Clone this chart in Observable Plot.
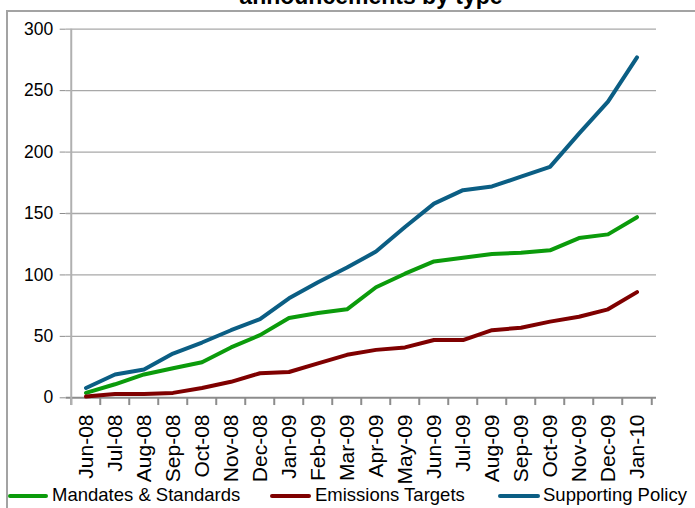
<!DOCTYPE html>
<html><head><meta charset="utf-8">
<script src="https://cdn.jsdelivr.net/npm/d3@7"></script>
<script src="https://cdn.jsdelivr.net/npm/@observablehq/plot@0.6"></script>
<style>
body{margin:0;position:relative;width:695px;height:508px;overflow:hidden;background:#fff;font-family:"Liberation Sans",Arial,sans-serif;}
#frame{position:absolute;left:6px;top:10px;width:800px;height:600px;border:2px solid #a3a3a3;box-sizing:border-box;}
#title{position:absolute;left:0;width:742px;text-align:center;top:-15.5px;font-size:23px;font-weight:bold;line-height:23px;color:#000;}
#chart{position:absolute;left:0;top:0;}
#chart text{fill:#000;}
.lg{position:absolute;font-size:18.5px;line-height:18.5px;top:486.3px;color:#000;white-space:nowrap;}
.sw{position:absolute;height:4px;top:494px;border-radius:2px;}
</style>
</head><body>
<div id="frame"></div>
<div id="title">announcements by type</div>
<div id="chart"></div>
<div id="legend"></div>
<script>
const months = ["Jun-08","Jul-08","Aug-08","Sep-08","Oct-08","Nov-08","Dec-08","Jan-09","Feb-09","Mar-09","Apr-09","May-09","Jun-09","Jul-09","Aug-09","Sep-09","Oct-09","Nov-09","Dec-09","Jan-10"];
const mandates   = [4, 11, 19, 24, 29, 41, 51, 65, 69, 72, 90, 101, 111, 114, 117, 118, 120, 130, 133, 147];
const emissions  = [1, 3, 3, 4, 8, 13, 20, 21, 28, 35, 39, 41, 47, 47, 55, 57, 62, 66, 72, 86];
const supporting = [8, 19, 23, 36, 45, 55, 64, 81, 94, 106, 119, 139, 158, 169, 172, 180, 188, 215, 241, 277];
const seriesNames = ["Mandates & Standards", "Emissions Targets", "Supporting Policy"];
const seriesColors = ["#0b9b0b", "#7f0000", "#0b5e84"];
const yTicks = [0, 50, 100, 150, 200, 250, 300];

const seriesValues = [mandates, emissions, supporting];
const rows = seriesNames.flatMap((s, k) => months.map((m, i) => ({month: m, value: seriesValues[k][i], series: s})));

const W = 695, H = 484, ML = 65.7, MR = 39, MT = 28.7, MB = 86.7;
const bw = (W - ML - MR) / months.length;
const tickLen = -6.3;
const axisGray = "#8c8c8c";

const chart = Plot.plot({
  width: W, height: H,
  marginLeft: ML, marginRight: MR, marginTop: MT, marginBottom: MB,
  style: {fontFamily: '"Liberation Sans", Arial, sans-serif', fontSize: "17.5px", color: axisGray, background: "transparent", overflow: "visible"},
  x: {type: "band", domain: months, padding: 0, axis: null},
  y: {domain: [0, 300], ticks: yTicks, tickSize: 6, tickPadding: 7, label: null},
  color: {domain: seriesNames, range: seriesColors},
  marks: [
    Plot.ruleY(yTicks.slice(1), {stroke: "#a8a8a8", strokeWidth: 1.3}),
    Plot.ruleY([0], {stroke: axisGray, strokeWidth: 2}),
    Plot.ruleX(months, {y1: 0, y2: tickLen, dx: -bw / 2, stroke: axisGray, strokeWidth: 2}),
    Plot.ruleX([months[months.length - 1]], {y1: 0, y2: tickLen, dx: bw / 2, stroke: axisGray, strokeWidth: 2}),
    Plot.ruleX([months[0]], {y1: tickLen, y2: 300, dx: -bw / 2, stroke: "#b0b0b0", strokeWidth: 2}),
    Plot.text(months, {x: d => d, y: 0, text: d => d, dy: 16.7, rotate: -90, textAnchor: "end", fontSize: 21, fill: "#000"}),
    Plot.line(rows, {x: "month", y: "value", z: "series", stroke: "series", strokeWidth: 4, strokeLinecap: "round", strokeLinejoin: "round"})
  ]
});
document.getElementById("chart").appendChild(chart);

const legendPos = [[8, 48, 52], [270, 311, 315], [498, 540, 543]];
const legend = document.getElementById("legend");
seriesNames.forEach((s, k) => {
  const [x0, x1, tx] = legendPos[k];
  const sw = document.createElement("div");
  sw.className = "sw";
  sw.style.left = x0 + "px";
  sw.style.width = (x1 - x0) + "px";
  sw.style.background = seriesColors[k];
  legend.appendChild(sw);
  const t = document.createElement("div");
  t.className = "lg";
  t.style.left = tx + "px";
  t.textContent = s;
  legend.appendChild(t);
});
</script>
</body></html>
